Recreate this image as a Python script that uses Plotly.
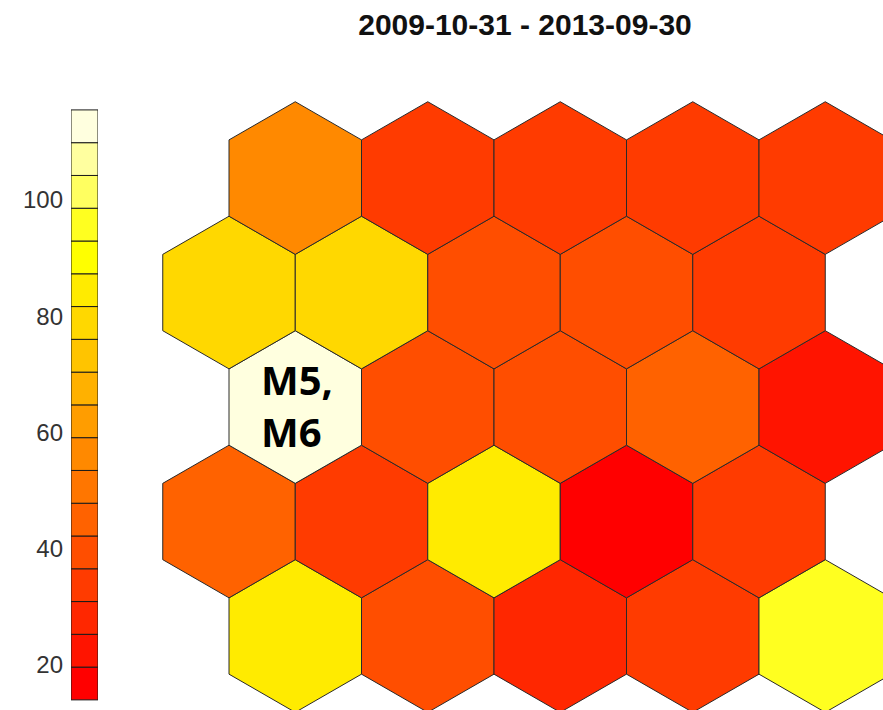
import math
import plotly.graph_objects as go

# ---------------- data ----------------
title_text = "2009-10-31 - 2013-09-30"

# SOM unit values, one list per grid row, listed from top row to bottom row
row5_values = [55.8, 33.1, 34.0, 33.5, 32.9]   # top row
row4_values = [78.5, 79.2, 39.0, 39.8, 33.2]
row3_values = [115.5, 39.5, 38.8, 45.2, 22.3]
row2_values = [44.6, 33.9, 84.2, 14.0, 33.4]
row1_values = [84.8, 39.1, 28.3, 33.6, 95.9]   # bottom row

# label placed on one unit (row index from bottom, column index)
label_lines = ["M5,", "M6"]
label_unit = (2, 0)

colorbar_ticks = [20, 40, 60, 80, 100]
n_colors = 18

# ---------------- palette (R heat.colors) ----------------
def heat_colors(n):
    j = n // 4
    i = n - j
    cols = []
    for k in range(i):
        g = round(255 * k / (i - 1)) if i > 1 else 0
        cols.append(f"#FF{g:02X}00")
    for k in range(j):
        s = (1 - 1 / (2 * j)) + k * ((1 / (2 * j)) - (1 - 1 / (2 * j))) / (j - 1) if j > 1 else 0.5
        b = round(255 * (1 - s))
        cols.append(f"#FFFF{b:02X}")
    return cols

palette = heat_colors(n_colors)

rows_bottom_up = [row1_values, row2_values, row3_values, row4_values, row5_values]
all_vals = [v for r in rows_bottom_up for v in r]
vmin, vmax = min(all_vals), max(all_vals)
step = (vmax - vmin) / n_colors

def color_of(v):
    k = int((v - vmin) / step)
    k = max(0, min(n_colors - 1, k))
    return palette[k]

fig = go.Figure()

# ---------------- hexagons ----------------
R = 1 / math.sqrt(3)
angles = [90, 150, 210, 270, 330, 30, 90]
for r, row in enumerate(rows_bottom_up):
    for c, v in enumerate(row):
        cx = c + (0.5 if r % 2 == 0 else 0.0)
        cy = r * math.sqrt(3) / 2
        xs = [cx + R * math.cos(math.radians(a)) for a in angles]
        ys = [cy + R * math.sin(math.radians(a)) for a in angles]
        fig.add_trace(go.Scatter(
            x=xs, y=ys, mode="lines", fill="toself",
            fillcolor=color_of(v),
            line=dict(color="#2a2a2a", width=1),
            hoverinfo="text", text=f"{v:.1f}",
            showlegend=False, xaxis="x", yaxis="y"))

# label on unit
lr, lc = label_unit
lcx = lc + (0.5 if lr % 2 == 0 else 0.0)
lcy = lr * math.sqrt(3) / 2
fig.add_annotation(
    x=lcx - 0.27, y=lcy + 0.01, xref="x", yref="y",
    text="<br>".join(f"<b>{t}</b>" for t in label_lines),
    showarrow=False, xanchor="left", yanchor="middle", align="left",
    font=dict(family="Open Sans", size=40, color="#000000"))

# ---------------- colour key ----------------
edges = [vmin + step * k for k in range(n_colors + 1)]
fig.add_trace(go.Bar(
    x=[0] * n_colors,
    y=[edges[k + 1] - edges[k] for k in range(n_colors)],
    base=edges[:-1],
    width=1,
    marker=dict(color=palette, line=dict(color="#1a1a1a", width=1)),
    showlegend=False, hoverinfo="skip",
    xaxis="x2", yaxis="y2"))

W, H = 883, 710
fig.update_layout(
    width=W, height=H,
    margin=dict(l=0, r=0, t=0, b=0),
    paper_bgcolor="white", plot_bgcolor="rgba(0,0,0,0)",
    barmode="overlay",
    title=dict(text=f"<b>{title_text}</b>", x=525 / W, y=1 - 24 / H,
               xanchor="center", yanchor="middle", xref="paper", yref="paper",
               font=dict(family="Liberation Sans", size=30, color="#111111")),
    xaxis=dict(domain=[0, 1], range=[-229 / 132.5, (W - 229) / 132.5],
               visible=False, fixedrange=True),
    yaxis=dict(domain=[0, 1], range=[(636 - H) / 132.2, 636 / 132.2],
               visible=False, fixedrange=True),
    xaxis2=dict(domain=[71 / W, 98 / W], range=[-0.5, 0.5], visible=False,
                anchor="y2", fixedrange=True),
    yaxis2=dict(domain=[0, 1], anchor="x2", fixedrange=True,
                range=[20 - (H - 665) / 5.8125, 100 + 200 / 5.8125],
                tickvals=colorbar_ticks, ticks="", showgrid=False,
                zeroline=False, showline=False, ticklabelstandoff=7,
                tickfont=dict(family="Liberation Sans", size=24, color="#333333")),
)

fig.write_html(
    "out.html",
    config={"displayModeBar": False},
    post_script="document.body.style.margin='0';document.body.style.overflow='hidden';",
)
